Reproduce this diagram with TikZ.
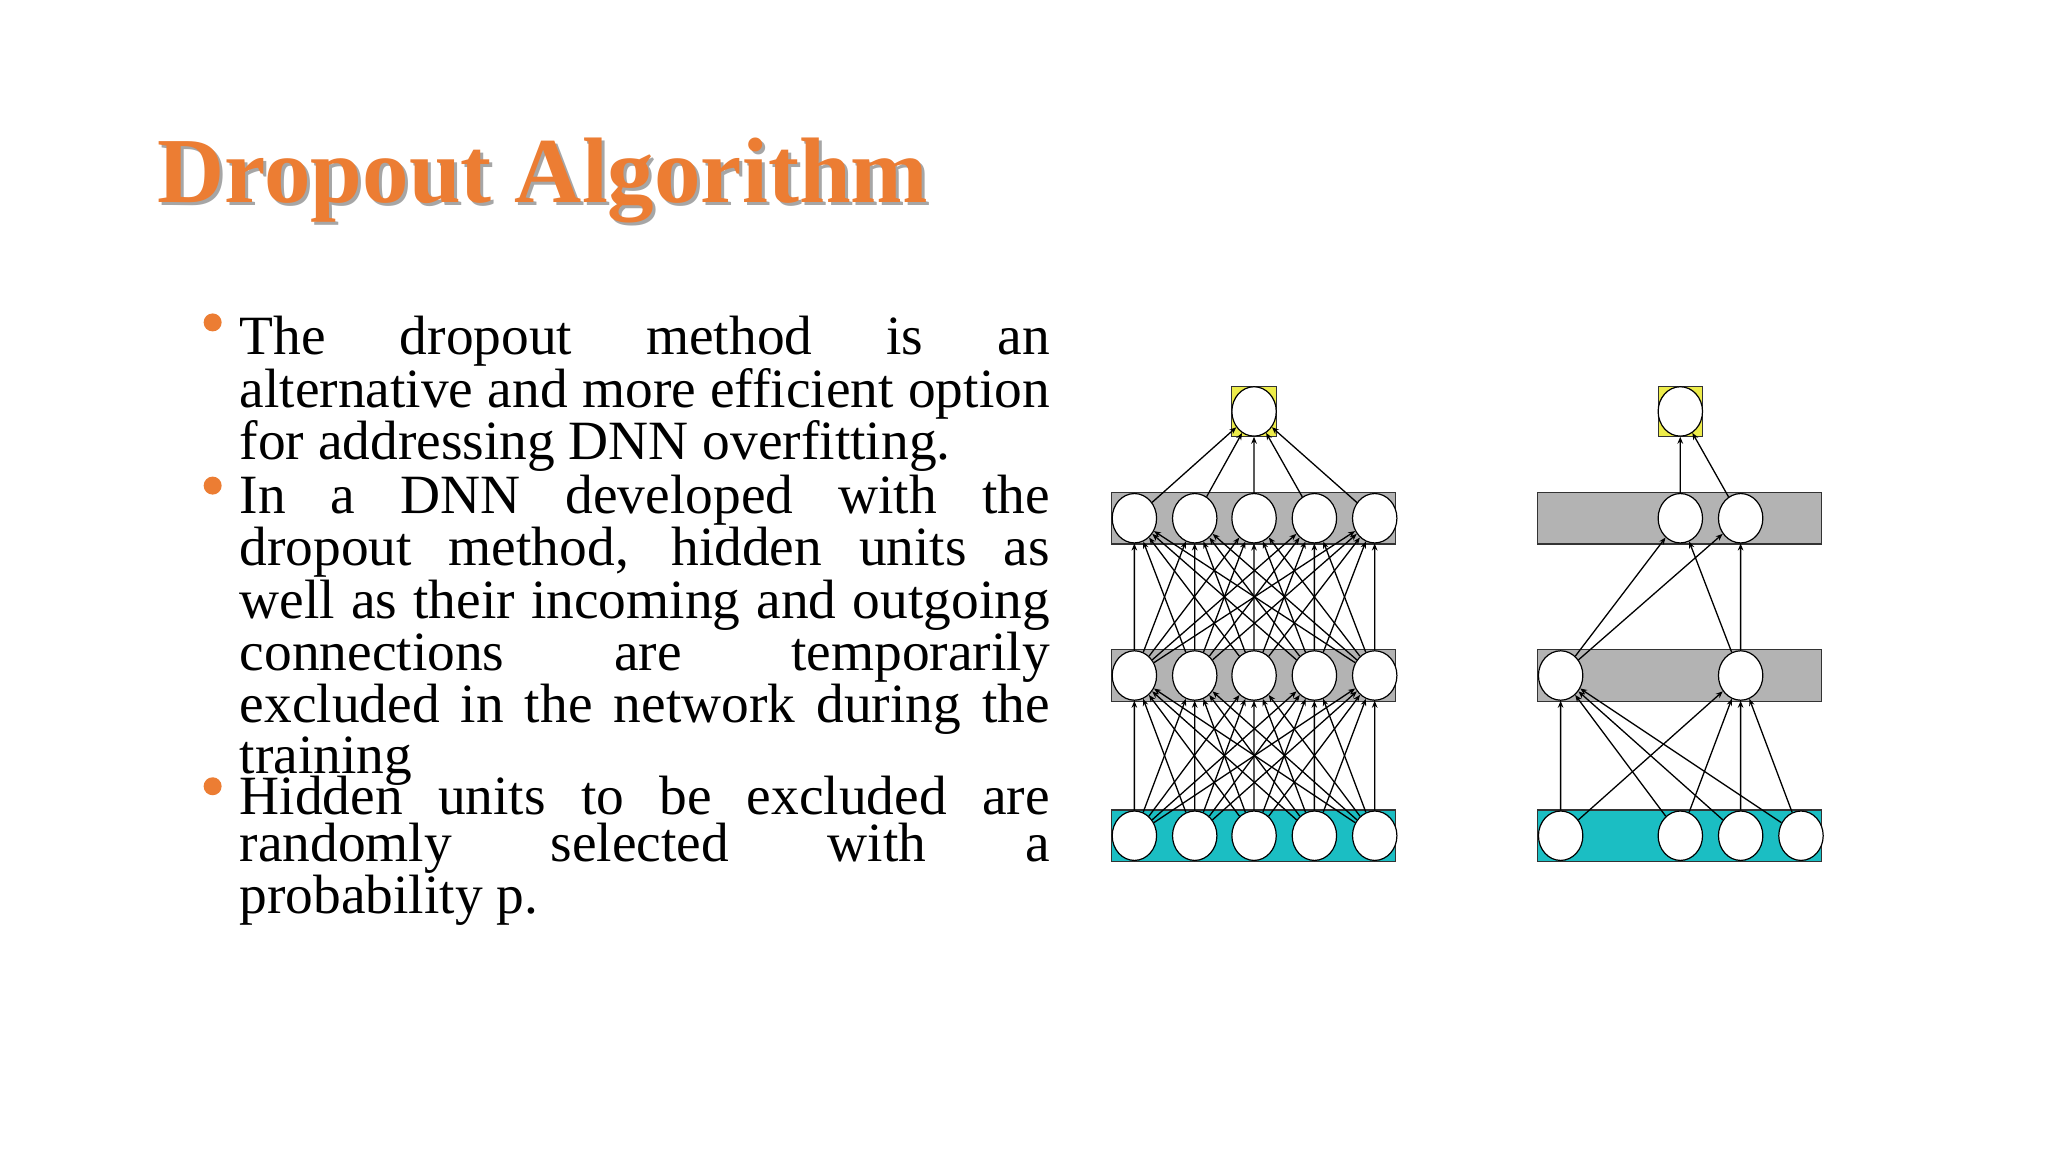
\documentclass[tikz,border=0pt]{standalone}
\usepackage{fontspec}
\setmainfont{Liberation Serif}
\usetikzlibrary{shapes.geometric,arrows.meta}
\definecolor{orng}{HTML}{EC7D33}
\definecolor{cyn}{HTML}{1BBEC3}
\definecolor{gry}{HTML}{B3B3B3}
\definecolor{ylw}{HTML}{EDEC4A}
\tikzset{
 unit/.style={ellipse,draw=black,fill=white,line width=0.6pt,minimum width=22.2pt,minimum height=24.7pt,inner sep=0pt},
 layer/.style={rectangle,draw=black!80,line width=0.6pt,minimum width=142pt,minimum height=25.7pt,inner sep=0pt},
 edge/.style={line width=0.65pt,-{Stealth[length=3.5pt,width=2.8pt]}},
 body/.style={anchor=north west,inner sep=0pt,text width=405pt,align=justify,font=\fontsize{27.7}{23.6}\selectfont},
 bullet/.style={circle,fill=orng,minimum size=9pt,inner sep=0pt}
}
\newcommand{\tightlines}{\lineskiplimit=-100pt\relax\lineskip=0pt\relax}
\begin{document}
\begin{tikzpicture}[x=0.5pt,y=-0.5pt]
\useasboundingbox (0,0) rectangle (2048,1152);
\fill[white] (0,0) rectangle (2048,1152);
\begin{scope}[scale=0.989]
% title
\node[anchor=base west,inner sep=0pt,text=black!35,font=\fontsize{46.5}{50}\selectfont\bfseries] (tsh) at (162,208) {Dropout Algorithm};
\node[anchor=base west,inner sep=0pt,text=orng,font=\fontsize{46.5}{50}\selectfont\bfseries] (title) at (159,205) {Dropout Algorithm};
% bullets
\node[bullet] (b1) at (215,326) {};
\node[bullet] (b2) at (215,491) {};
\node[bullet] (b3) at (215,795) {};
\hyphenpenalty=10000
\node[body] (p1) at (242,319) {\tightlines The dropout method is an\linebreak alternative and more efficient option\linebreak for addressing DNN overfitting.};
\node[body] (p2) at (242,480) {\tightlines In a DNN developed with the\linebreak dropout method, hidden units as\linebreak well as their incoming and outgoing\linebreak connections are temporarily\linebreak excluded in the network during the\linebreak training};
\node[body] (p3) at (242,784) {\tightlines Hidden units to be excluded are\linebreak randomly selected with a\linebreak probability p.};
% left network
\node[layer,fill=gry] (LT) at (1267.5,524) {};
\node[layer,fill=gry] (LM) at (1267.5,683) {};
\node[layer,fill=cyn] (LB) at (1267.5,845) {};
\node[rectangle,draw=black!80,fill=ylw,line width=0.6pt,minimum width=22.2pt,minimum height=24.7pt,inner sep=0pt] (Lsq) at (1268,416) {};
\node[unit] (Lo) at (1268,416) {};
\foreach \i/\x in {0/1147,1/1208,2/1268,3/1329,4/1390}{
 \node[unit] (Lt\i) at (\x,524) {};
 \node[unit] (Lm\i) at (\x,683) {};
 \node[unit] (Lb\i) at (\x,845) {};
}
\foreach \i in {0,...,4}{
 \draw[edge] (Lt\i) -- (Lo);
 \foreach \j in {0,...,4}{
  \draw[edge] (Lb\i) -- (Lm\j);
  \draw[edge] (Lm\i) -- (Lt\j);
 }
}
% right network
\node[layer,fill=gry] (RT) at (1698.5,524) {};
\node[layer,fill=gry] (RM) at (1698.5,683) {};
\node[layer,fill=cyn] (RB) at (1698.5,845) {};
\node[rectangle,draw=black!80,fill=ylw,line width=0.6pt,minimum width=22.2pt,minimum height=24.7pt,inner sep=0pt] (Rsq) at (1699,416) {};
\node[unit] (Ro) at (1699,416) {};
\node[unit] (Rt2) at (1699,524) {};
\node[unit] (Rt3) at (1760,524) {};
\node[unit] (Rm0) at (1578,683) {};
\node[unit] (Rm3) at (1760,683) {};
\node[unit] (Rb0) at (1578,845) {};
\node[unit] (Rb2) at (1699,845) {};
\node[unit] (Rb3) at (1760,845) {};
\node[unit] (Rb4) at (1821,845) {};
\foreach \i in {2,3}{
 \draw[edge] (Rt\i) -- (Ro);
 \foreach \j in {0,3}{ \draw[edge] (Rm\j) -- (Rt\i); }
}
\foreach \i in {0,2,3,4}{
 \foreach \j in {0,3}{ \draw[edge] (Rb\i) -- (Rm\j); }
}
\end{scope}
\end{tikzpicture}
\end{document}
